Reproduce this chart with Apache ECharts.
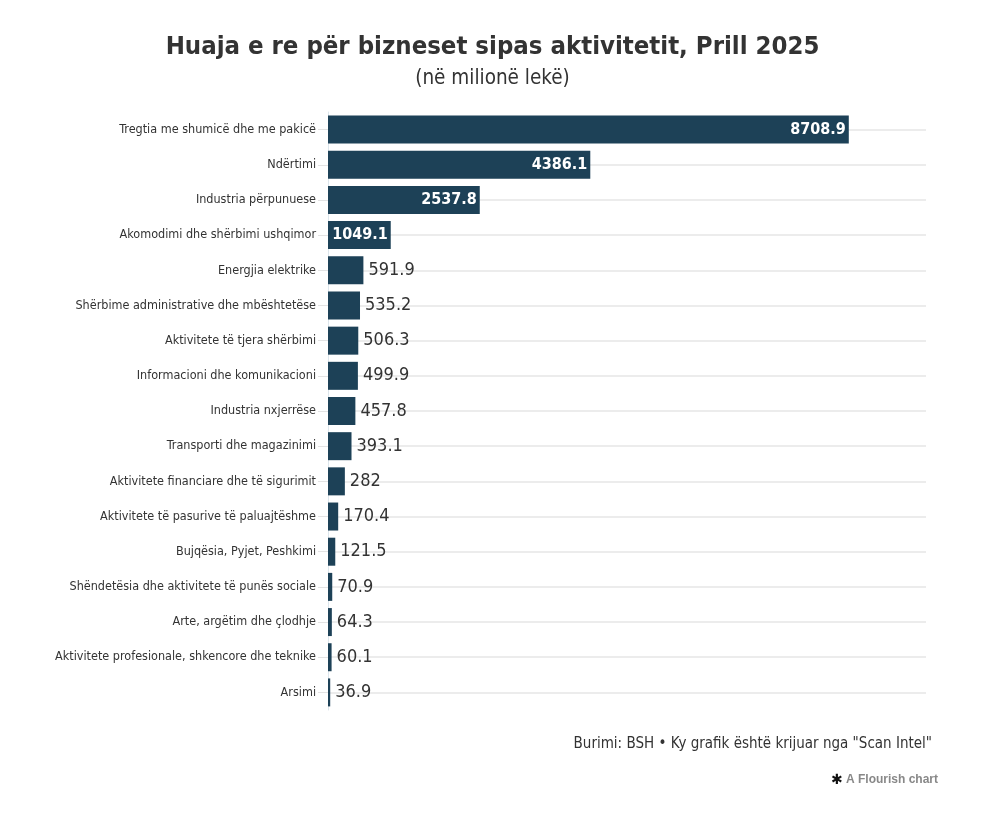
<!DOCTYPE html>
<html>
<head>
<meta charset="utf-8">
<script src="https://cdn.jsdelivr.net/npm/echarts@6/dist/echarts.min.js"></script>
<style>
html,body{margin:0;padding:0;background:#fff;}
#chart{width:985px;height:815px;}
</style>
</head>
<body>
<div id="chart"></div>
<script>
const categories = [
  "Tregtia me shumicë dhe me pakicë",
  "Ndërtimi",
  "Industria përpunuese",
  "Akomodimi dhe shërbimi ushqimor",
  "Energjia elektrike",
  "Shërbime administrative dhe mbështetëse",
  "Aktivitete të tjera shërbimi",
  "Informacioni dhe komunikacioni",
  "Industria nxjerrëse",
  "Transporti dhe magazinimi",
  "Aktivitete financiare dhe të sigurimit",
  "Aktivitete të pasurive të paluajtëshme",
  "Bujqësia, Pyjet, Peshkimi",
  "Shëndetësia dhe aktivitete të punës sociale",
  "Arte, argëtim dhe çlodhje",
  "Aktivitete profesionale, shkencore dhe teknike",
  "Arsimi"
];
const values = [8708.9, 4386.1, 2537.8, 1049.1, 591.9, 535.2, 506.3, 499.9, 457.8, 393.1, 282, 170.4, 121.5, 70.9, 64.3, 60.1, 36.9];
const titleText = "Huaja e re për bizneset sipas aktivitetit, Prill 2025";
const subtitleText = "(në milionë lekë)";
const sourceText = "Burimi: BSH • Ky grafik është krijuar nga \"Scan Intel\"";

const FONT = '"Liberation Sans Narrow", "DejaVu Sans Condensed", "Roboto", sans-serif';
const BAR = '#1d4157';
const insideThreshold = 1000;

const chart = echarts.init(document.getElementById('chart'));
chart.setOption({
  backgroundColor: '#fff',
  animation: false,
  title: [
    {text: titleText, left: 'center', top: 29,
     textStyle: {fontFamily: FONT, fontSize: 25.5, fontWeight: 'bold', color: '#333'}},
    {text: subtitleText, left: 'center', top: 63,
     textStyle: {fontFamily: FONT, fontSize: 20.5, fontWeight: 'normal', color: '#333'}}
  ],
  grid: {left: 328, right: 59, top: 112, bottom: 105, containLabel: false},
  xAxis: {
    type: 'value', min: 0, max: 10000, show: false
  },
  yAxis: {
    type: 'category', inverse: true, data: categories,
    axisLine: {show: true, lineStyle: {color: '#dde6ec', width: 1}},
    axisTick: {show: true, alignWithLabel: true, length: 10, lineStyle: {color: '#e3e3e3'}},
    axisLabel: {fontFamily: FONT, fontSize: 12.5, color: '#333', margin: 12},
    splitLine: {show: false}
  },
  series: [
    {
      type: 'line', data: [], z: 1, silent: true, symbol: 'none',
      markLine: {
        z: 1, silent: true, symbol: 'none', label: {show: false},
        lineStyle: {color: '#e6e6e6', type: 'solid', width: 1.5},
        data: categories.map(c => ({yAxis: c}))
      }
    },
    {
      type: 'bar', z: 3, barWidth: 28,
      itemStyle: {color: BAR},
      data: values.map(v => ({
        value: v,
        label: v >= insideThreshold ? {
          show: true, position: 'insideRight', distance: 3,
          color: '#fff', fontFamily: FONT, fontWeight: 'bold', fontSize: 16,
          textBorderColor: BAR, textBorderWidth: 3
        } : {
          show: true, position: 'right', distance: 5,
          color: '#333', fontFamily: FONT, fontSize: 18
        }
      }))
    }
  ],
  graphic: [
    {type: 'text', right: 53, top: 737,
     style: {text: sourceText, font: '15px ' + FONT, fill: '#333', textAlign: 'right'}},
    {type: 'text', right: 47, top: 773,
     style: {
       text: '{a|✱} {b|A Flourish chart}',
       rich: {
         a: {fontSize: 14, fill: '#111', fontWeight: 'bold', fontFamily: 'DejaVu Sans'},
         b: {fontSize: 12, fill: '#888', fontWeight: 'bold', fontFamily: '"Liberation Sans", Arial, sans-serif'}
       }
     }}
  ]
});
</script>
</body>
</html>
